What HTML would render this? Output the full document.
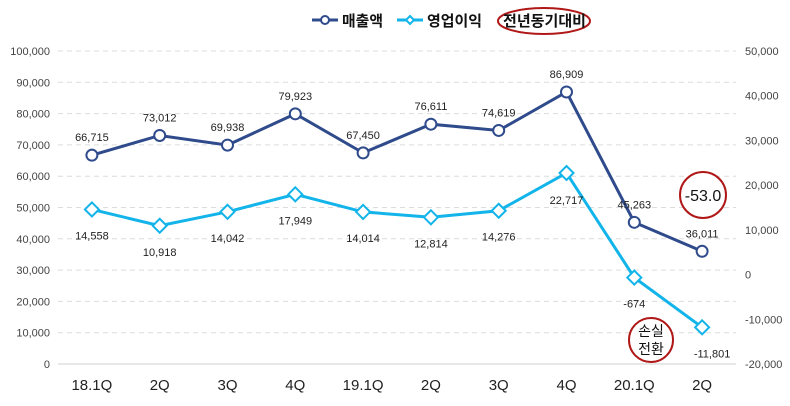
<!DOCTYPE html>
<html><head><meta charset="utf-8"><style>
body{margin:0;background:#fff;}
svg{display:block;font-family:"Liberation Sans","Noto Sans CJK KR",sans-serif;}
</style></head><body>
<svg id="c" width="790" height="406"></svg>
<script>
const categories=["18.1Q","2Q","3Q","4Q","19.1Q","2Q","3Q","4Q","20.1Q","2Q"];
const sales=[66715,73012,69938,79923,67450,76611,74619,86909,45263,36011];
const profit=[14558,10918,14042,17949,14014,12814,14276,22717,-674,-11801];
const leftTicks=[0,10000,20000,30000,40000,50000,60000,70000,80000,90000,100000];
const rightTicks=[-20000,-10000,0,10000,20000,30000,40000,50000];
const NS="http://www.w3.org/2000/svg";
const svg=document.getElementById('c');
const X0=58,X1=736,Y0=364,Y1=51;
const bw=(X1-X0)/categories.length;
const x=i=>X0+bw*(i+0.5);
const yL=v=>Y0-(v-0)/100000*(Y0-Y1);
const yR=v=>Y0-(v+20000)/70000*(Y0-Y1);
const fmt=v=>v.toLocaleString('en-US');
function el(t,a,txt){const e=document.createElementNS(NS,t);for(const k in a)e.setAttribute(k,a[k]);if(txt!==undefined)e.textContent=txt;svg.appendChild(e);return e;}
leftTicks.forEach(v=>{
 const y=yL(v);
 const g=el('line',{x1:X0,x2:X1,y1:y,y2:y,stroke:v===0?'#d0d0d0':'#dcdcdc','stroke-dasharray':v===0?'':'5,4'});
 
 
 const t=el('text',{x:50,y:y+4,'text-anchor':'end','font-size':11,fill:'#444'},fmt(v));
 
 
});
rightTicks.forEach(v=>{
 const t=el('text',{x:745,y:yR(v)+4,'font-size':11,fill:'#444'},fmt(v));
 
 
});
categories.forEach((c,i)=>{
 const t=el('text',{x:x(i),y:390,'text-anchor':'middle','font-size':15,fill:'#222'},c);
 
 
});
const sp=el('polyline',{points:sales.map((v,i)=>x(i)+','+yL(v)).join(' '),fill:'none',stroke:'#2f4b8c','stroke-width':3});


const pp=el('polyline',{points:profit.map((v,i)=>x(i)+','+yR(v)).join(' '),fill:'none',stroke:'#12b4ea','stroke-width':3});


sales.forEach((v,i)=>{
 const m=el('circle',{cx:x(i),cy:yL(v),r:5.5,fill:'#fff',stroke:'#2f4b8c','stroke-width':2});
 
 
 const t=el('text',{x:x(i),y:yL(v)-14,'text-anchor':'middle','font-size':11,fill:'#222'},fmt(v));
 
 
});
profit.forEach((v,i)=>{
 const cx=x(i),cy=yR(v);
 const m=el('polygon',{points:`${cx},${cy-7} ${cx+7},${cy} ${cx},${cy+7} ${cx-7},${cy}`,fill:'#fff',stroke:'#12b4ea','stroke-width':2});
 
 
 const t=el('text',{x:cx+(i===9?10:0),y:i===7?cy+31:cy+30,'text-anchor':'middle','font-size':11,fill:'#222'},fmt(v));
 
 
});
// legend
let l=el('line',{x1:312,x2:338,y1:20,y2:20,stroke:'#2f4b8c','stroke-width':3});

l=el('circle',{cx:325,cy:20,r:4,fill:'#fff',stroke:'#2f4b8c','stroke-width':2});

l=el('text',{x:342,y:26,'font-size':15,'font-weight':'bold',fill:'#111',textLength:41,lengthAdjust:'spacingAndGlyphs'},'매출액');

l=el('line',{x1:397,x2:423,y1:20,y2:20,stroke:'#12b4ea','stroke-width':3});

l=el('polygon',{points:'410,16 414,20 410,24 406,20',fill:'#fff',stroke:'#12b4ea','stroke-width':2});

l=el('text',{x:427,y:26,'font-size':15,'font-weight':'bold',fill:'#111',textLength:55,lengthAdjust:'spacingAndGlyphs'},'영업이익');

l=el('ellipse',{cx:544,cy:21,rx:46,ry:13,fill:'none',stroke:'#b01818','stroke-width':2});

l=el('text',{x:503,y:26,'font-size':15,'font-weight':'bold',fill:'#111',textLength:83,lengthAdjust:'spacingAndGlyphs'},'전년동기대비');

// annotations
l=el('circle',{cx:703,cy:195,r:23,fill:'#fff',stroke:'#b01818','stroke-width':2});

l=el('text',{x:703,y:201,'text-anchor':'middle','font-size':16,fill:'#111'},'-53.0');

l=el('circle',{cx:651,cy:340,r:22,fill:'#fff',stroke:'#b01818','stroke-width':2});

l=el('text',{x:651,y:336,'text-anchor':'middle','font-size':14,fill:'#111'},'손실');

l=el('text',{x:651,y:354,'text-anchor':'middle','font-size':14,fill:'#111'},'전환');

</script>
</body></html>
